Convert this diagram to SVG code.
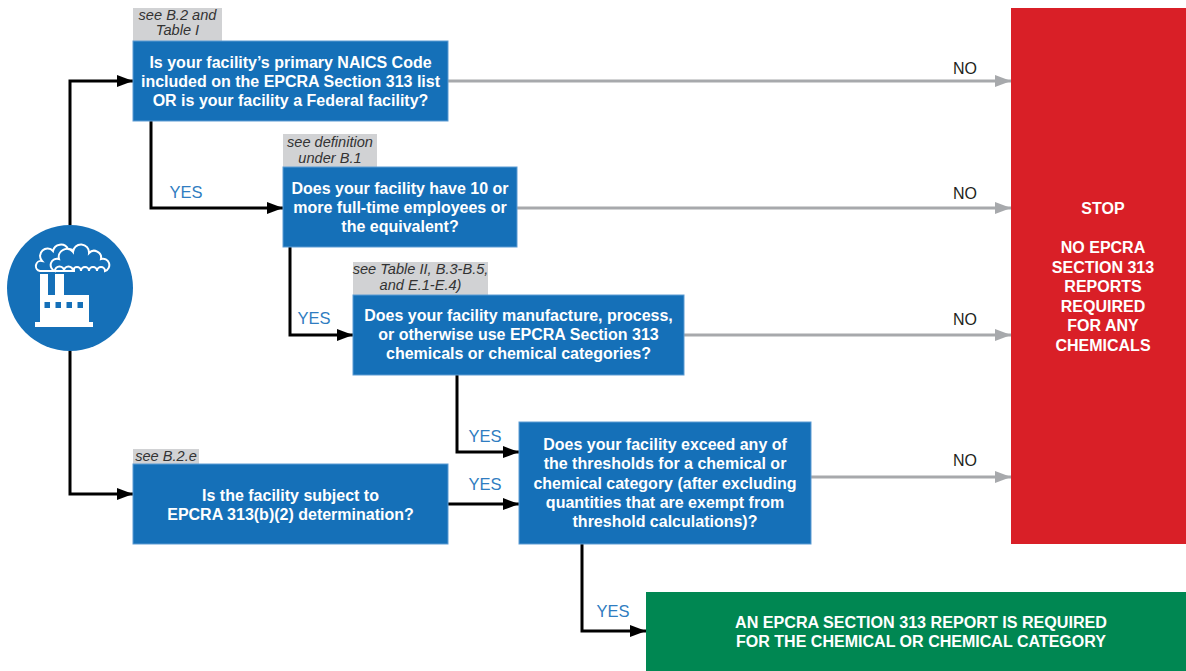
<svg xmlns="http://www.w3.org/2000/svg" width="1186" height="671" viewBox="0 0 1186 671">
<style>
.q{fill:#1570b8;stroke:#5d9bd3;stroke-width:1}
.lbl{fill:#d1d2d4}
.qt{font-family:"Liberation Sans",Arial,sans-serif;font-weight:bold;font-size:16px;fill:#fff;text-anchor:middle}
.lt{font-family:"Liberation Sans",Arial,sans-serif;font-style:italic;font-size:14.6px;fill:#333;text-anchor:middle}
.yes{font-family:"Liberation Sans",Arial,sans-serif;font-size:16.5px;fill:#2f7dc1;text-anchor:middle}
.no{font-family:"Liberation Sans",Arial,sans-serif;font-size:16px;fill:#231f20;text-anchor:middle}
.k{fill:none;stroke:#000;stroke-width:3}
.g{fill:none;stroke:#a7a9ac;stroke-width:3}
</style>
<defs>
<marker id="ak" markerUnits="userSpaceOnUse" markerWidth="16" markerHeight="12" refX="16" refY="6" orient="auto"><path d="M0,0 L16,6 L0,12 Z" fill="#000"/></marker>
<marker id="ag" markerUnits="userSpaceOnUse" markerWidth="16" markerHeight="12" refX="16" refY="6" orient="auto"><path d="M0,0 L16,6 L0,12 Z" fill="#a7a9ac"/></marker>
</defs>
<rect width="1186" height="671" fill="#fff"/>

<g id="connectors">
<path class="k" d="M70,225 V81 H133" marker-end="url(#ak)"/>
<path class="k" d="M70,351 V494 H133" marker-end="url(#ak)"/>
<path class="k" d="M151,121 V208 H283" marker-end="url(#ak)"/>
<path class="k" d="M290,247 V335 H353" marker-end="url(#ak)"/>
<path class="k" d="M457,375 V452 H519" marker-end="url(#ak)"/>
<path class="k" d="M448,504 H519" marker-end="url(#ak)"/>
<path class="k" d="M582,544 V631 H646" marker-end="url(#ak)"/>
<path class="g" d="M448,81 H1011" marker-end="url(#ag)"/>
<path class="g" d="M517,208 H1011" marker-end="url(#ag)"/>
<path class="g" d="M684,335 H1011" marker-end="url(#ag)"/>
<path class="g" d="M811,477 H1011" marker-end="url(#ag)"/>
<text class="yes" x="186" y="198">YES</text>
<text class="yes" x="314" y="324">YES</text>
<text class="yes" x="485" y="442">YES</text>
<text class="yes" x="485" y="490">YES</text>
<text class="yes" x="613" y="617">YES</text>
<text class="no" x="965" y="74">NO</text>
<text class="no" x="965" y="199">NO</text>
<text class="no" x="965" y="325">NO</text>
<text class="no" x="965" y="466">NO</text>
</g>

<g id="start">
<circle cx="70" cy="288" r="63" fill="#1570b8"/>
<path d="M40,271 A5,5 0 0 1 42,261 A7,7 0 0 1 53,251 A8,8 0 0 1 68,249 A6,6 0 0 1 74,258 L74,271 Z" fill="#1570b8" stroke="#fff" stroke-width="2"/>
<path d="M55,271 A6,6 0 0 1 59,259 A8,8 0 0 1 73,252 A8,8 0 0 1 89,253 A7,7 0 0 1 101,259 A6,6 0 0 1 105,271 A4,4 0 0 0 97,271 A4,4 0 0 0 89,271 A4,4 0 0 0 81,271 A4,4 0 0 0 73,271 A4,4 0 0 0 64,271 A4.5,4.5 0 0 0 55,271 Z" fill="#1570b8" stroke="#fff" stroke-width="2"/>
<path d="M40,323 V274 H48 V295 H55 V274 H64 V295 H89 V323 Z" fill="#fff"/>
<rect x="35" y="322" width="58" height="5" fill="#fff"/>
<rect x="44.5" y="302" width="5.5" height="6" fill="#1570b8"/>
<rect x="55.5" y="302" width="5.5" height="6" fill="#1570b8"/>
<rect x="66.5" y="302" width="5.5" height="6" fill="#1570b8"/>
<rect x="77.5" y="302" width="5.5" height="6" fill="#1570b8"/>
</g>

<g id="q1">
<rect class="lbl" x="133" y="8" width="89" height="33"/>
<text class="lt" x="177.5" y="20">see B.2 and</text>
<text class="lt" x="177.5" y="35">Table I</text>
<rect class="q" x="133" y="41" width="315" height="80"/>
<text class="qt" x="290.5" y="68">Is your facility’s primary NAICS Code</text>
<text class="qt" x="290.5" y="87">included on the EPCRA Section 313 list</text>
<text class="qt" x="290.5" y="106">OR is your facility a Federal facility?</text>
</g>

<g id="q2">
<rect class="lbl" x="283" y="134" width="94" height="33"/>
<text class="lt" x="330" y="147">see definition</text>
<text class="lt" x="330" y="163">under B.1</text>
<rect class="q" x="283" y="167" width="234" height="80"/>
<text class="qt" x="400" y="194">Does your facility have 10 or</text>
<text class="qt" x="400" y="213">more full-time employees or</text>
<text class="qt" x="400" y="232">the equivalent?</text>
</g>

<g id="q3">
<rect class="lbl" x="353" y="262" width="135" height="33"/>
<text class="lt" x="420.5" y="274">see Table II, B.3-B.5,</text>
<text class="lt" x="420.5" y="290">and E.1-E.4)</text>
<rect class="q" x="353" y="295" width="331" height="80"/>
<text class="qt" x="518.5" y="321">Does your facility manufacture, process,</text>
<text class="qt" x="518.5" y="340">or otherwise use EPCRA Section 313</text>
<text class="qt" x="518.5" y="359">chemicals or chemical categories?</text>
</g>

<g id="q4">
<rect class="lbl" x="133" y="449" width="66" height="15"/>
<text class="lt" x="166" y="461">see B.2.e</text>
<rect class="q" x="133" y="464" width="315" height="80"/>
<text class="qt" x="290.5" y="501">Is the facility subject to</text>
<text class="qt" x="290.5" y="520">EPCRA 313(b)(2) determination?</text>
</g>

<g id="q5">
<rect class="q" x="519" y="422" width="292" height="122"/>
<text class="qt" x="665" y="450">Does your facility exceed any of</text>
<text class="qt" x="665" y="469.3">the thresholds for a chemical or</text>
<text class="qt" x="665" y="488.6">chemical category (after excluding</text>
<text class="qt" x="665" y="507.9">quantities that are exempt from</text>
<text class="qt" x="665" y="527.2">threshold calculations)?</text>
</g>

<g id="stop">
<rect x="1011" y="8" width="180" height="536" fill="#d91f27"/>
<text class="qt" x="1103" y="214">STOP</text>
<text class="qt" x="1103" y="253">NO EPCRA</text>
<text class="qt" x="1103" y="272.5">SECTION 313</text>
<text class="qt" x="1103" y="292">REPORTS</text>
<text class="qt" x="1103" y="311.5">REQUIRED</text>
<text class="qt" x="1103" y="331">FOR ANY</text>
<text class="qt" x="1103" y="350.5">CHEMICALS</text>
</g>

<g id="report">
<rect x="646" y="592" width="545" height="84" fill="#008752"/>
<text class="qt" x="921" y="628" textLength="372" lengthAdjust="spacingAndGlyphs">AN EPCRA SECTION 313 REPORT IS REQUIRED</text>
<text class="qt" x="921" y="647" textLength="370" lengthAdjust="spacingAndGlyphs">FOR THE CHEMICAL OR CHEMICAL CATEGORY</text>
</g>
</svg>
